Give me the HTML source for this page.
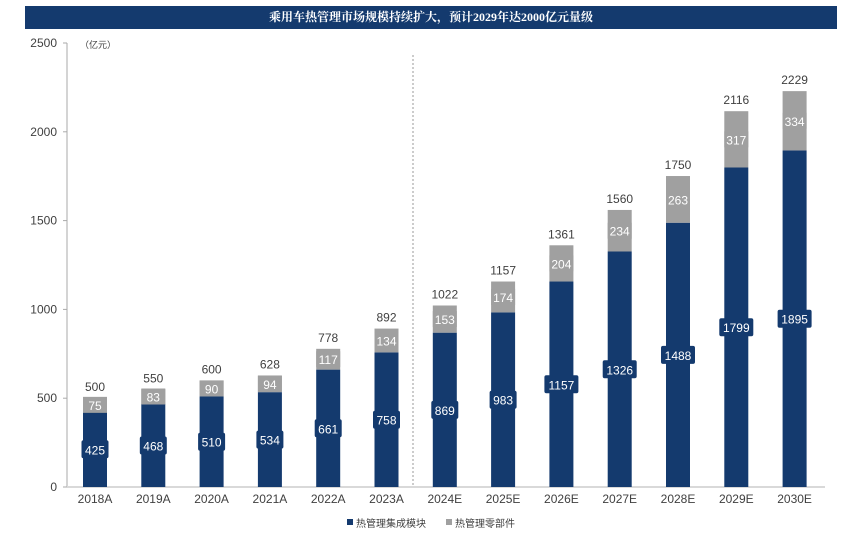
<!DOCTYPE html>
<html><head><meta charset="utf-8">
<style>
body{margin:0;background:#fff;width:865px;height:543px;overflow:hidden;font-family:"Liberation Sans","Noto Sans CJK SC",sans-serif;}
#title{position:absolute;left:25px;top:6px;width:812px;height:23px;background:#143a6e;color:#fff;font-weight:bold;font-size:12px;line-height:23px;text-align:center;font-family:"Liberation Serif","Noto Serif CJK SC",serif;}
svg{position:absolute;left:0;top:0}
</style></head><body>
<div id="title">乘用车热管理市场规模持续扩大，预计2029年达2000亿元量级</div>
<svg id="chart" width="865" height="543"></svg>
<script>
const categories=["2018A","2019A","2020A","2021A","2022A","2023A","2024E","2025E","2026E","2027E","2028E","2029E","2030E"];
const moduleValues=[425,468,510,534,661,758,869,983,1157,1326,1488,1799,1895];
const partValues=[75,83,90,94,117,134,153,174,204,234,263,317,334];
const totalValues=[500,550,600,628,778,892,1022,1157,1361,1560,1750,2116,2229];
const yTicks=[0,500,1000,1500,2000,2500];
const NS="http://www.w3.org/2000/svg";
const svg=document.getElementById('chart');
const y0=487,yTop=43,yMax=2500;
const y=v=>y0-(v/yMax)*(y0-yTop);
const x=i=>95+i*58.3;
const bw=24;
function mk(t,a,txt){const e=document.createElementNS(NS,t);for(const k in a)e.setAttribute(k,a[k]);if(txt!==undefined)e.textContent=txt;svg.appendChild(e);return e;}
let e;
e=mk('line',{x1:67,y1:yTop,x2:67,y2:y0,stroke:'#aaa','stroke-width':1});


e=mk('line',{x1:67,y1:y0,x2:825,y2:y0,stroke:'#d9d9d9','stroke-width':2});


yTicks.forEach(t=>{
  mk('line',{x1:63,y1:y(t),x2:67,y2:y(t),stroke:'#aaa'});
  e=mk('text',{x:57,y:y(t)+4,'text-anchor':'end','font-size':12,fill:'#404040'},t);
  
  
});
e=mk('text',{x:80,y:48,'font-size':9,fill:'#404040'},'（亿元）');


e=mk('line',{x1:413,y1:55,x2:413,y2:y0,stroke:'#999','stroke-dasharray':'2,2'});


categories.forEach((c,i)=>{
  const cx=x(i),m=moduleValues[i],p=partValues[i];
  e=mk('rect',{x:cx-bw/2,y:y(m),width:bw,height:y0-y(m),fill:'#143a6e'});
  
  
  e=mk('rect',{x:cx-bw/2,y:y(m+p),width:bw,height:y(m)-y(m+p),fill:'#a0a0a0'});
  
  
  const my=(y(m)+y0)/2;
  const lw=String(m).length*7+6;
  mk('rect',{x:cx-lw/2,y:my-9,width:lw,height:18,rx:2,fill:'#143a6e'});
  e=mk('text',{x:cx,y:my+5,'text-anchor':'middle','font-size':12,fill:'#fff'},m);
  
  
  const py=(y(m)+y(m+p))/2;
  mk('rect',{x:cx-12,y:py-8,width:24,height:16,fill:'#a0a0a0'});
  e=mk('text',{x:cx,y:py+5,'text-anchor':'middle','font-size':12,fill:'#fff'},p);
  
  
  e=mk('text',{x:cx,y:y(totalValues[i])-7,'text-anchor':'middle','font-size':12,fill:'#404040'},totalValues[i]);
  
  
  e=mk('text',{x:cx,y:503,'text-anchor':'middle','font-size':12,fill:'#404040'},c);
  
  
});
mk('rect',{x:347,y:519,width:6,height:6,fill:'#143a6e'});
e=mk('text',{x:356,y:527,'font-size':10,fill:'#404040'},'热管理集成模块');


mk('rect',{x:446,y:519,width:6,height:6,fill:'#a0a0a0'});
e=mk('text',{x:455,y:527,'font-size':10,fill:'#404040'},'热管理零部件');


</script>
</body></html>
